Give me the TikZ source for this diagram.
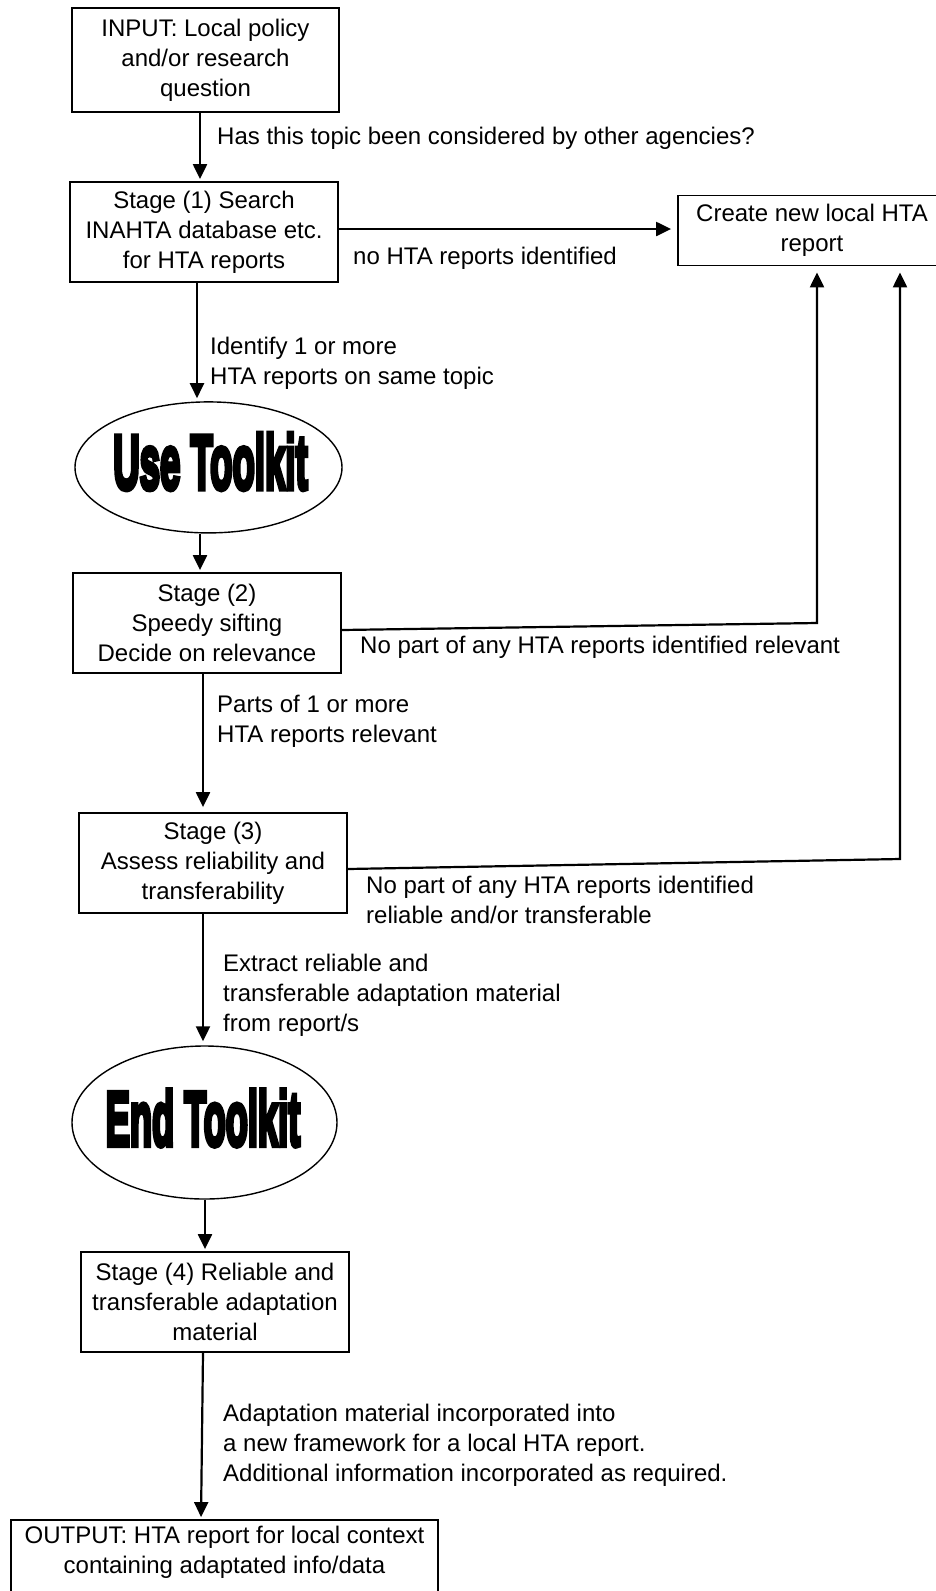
\documentclass[tikz,border=0pt]{standalone}
\usepackage{fontspec}
\usepackage{graphicx}
\setmainfont{Liberation Sans}
\newfontfamily\tkfont[BoldFeatures={FakeBold=7}]{Liberation Sans}
\usetikzlibrary{arrows.meta,shapes.geometric}
\newcommand{\txtfont}{\fontsize{24}{30}\selectfont}
\newcommand{\bigfont}{\tkfont\bfseries\fontsize{77}{90}\selectfont}
\begin{document}
\begin{tikzpicture}[x=1pt,y=-1pt,
  box/.style={draw, line width=1.8pt, minimum width=268pt, minimum height=100pt, align=center, inner sep=0pt, font=\txtfont},
  lbl/.style={anchor=north west, align=left, inner sep=0pt, font=\txtfont},
  arr/.style={line width=2.2pt, -{Triangle[length=15pt,width=14pt]}},
  oval/.style={draw, ellipse, line width=1.4pt, inner sep=0pt},
  toolkit/.style={inner sep=0pt, font=\bigfont}]
\useasboundingbox (0,0) rectangle (936,1591);
\fill[white] (0,0) rectangle (936,1591);
% boxes
\node[box, minimum width=267pt, minimum height=104pt] (input) at (205.5,60) {INPUT: Local policy\\and/or research\\question};
\node[box] (s1) at (204,232) {Stage (1) Search\\INAHTA database etc.\\for HTA reports};
\node[box, minimum width=268pt, minimum height=70pt] (create) at (812,230.5) {Create new local HTA\\report};
\node[oval, minimum width=267pt, minimum height=131pt] (use) at (208.5,467.4) {};
\node[toolkit] (uset) at (210.5,461.5) {\scalebox{0.475}[1]{Use Toolkit}};
\node[box] (s2) at (207,623) {Stage (2)\\Speedy sifting\\Decide on relevance};
\node[box] (s3) at (213,863) {Stage (3)\\Assess reliability and\\transferability};
\node[oval, minimum width=265pt, minimum height=153pt] (endt) at (204.5,1122.5) {};
\node[toolkit] (endtt) at (203,1118) {\scalebox{0.47}[1]{End Toolkit}};
\node[box] (s4) at (215,1302) {Stage (4) Reliable and\\transferable adaptation\\material};
\node[draw, line width=1.8pt, minimum width=427pt, minimum height=90pt, inner sep=0pt] (out) at (224.5,1565) {};
\node[font=\txtfont, align=center, inner sep=0pt] (outt) at (224.5,1552) {OUTPUT: HTA report for local context\\containing adaptated info/data};
% labels
\node[lbl] (l0) at (217,126.5) {Has this topic been considered by other agencies?};
\node[lbl] (l1) at (353,246.5) {no HTA reports identified};
\node[lbl] (l2) at (210,336.5) {Identify 1 or more\\HTA reports on same topic};
\node[lbl] (l3) at (360,635.5) {No part of any HTA reports identified relevant};
\node[lbl] (l4) at (217,694.5) {Parts of 1 or more\\HTA reports relevant};
\node[lbl] (l5) at (366,875.5) {No part of any HTA reports identified\\reliable and/or transferable};
\node[lbl] (l6) at (223,953.5) {Extract reliable and\\transferable adaptation material\\from report/s};
\node[lbl] (l7) at (223,1403.5) {Adaptation material incorporated into\\a new framework for a local HTA report.\\Additional information incorporated as required.};
% helper coordinates
\coordinate (a1) at ([xshift=-5.5pt]input.south);
\coordinate (a2) at ([yshift=3pt]s1.east);
\coordinate (a3) at ([xshift=-7pt]s1.south);
\coordinate (a4) at ([xshift=-8.5pt]use.south);
\coordinate (a5) at ([yshift=-7pt]s2.east);
\coordinate (k2) at (817,623);
\coordinate (a6) at ([xshift=-4pt]s2.south);
\coordinate (a7) at ([yshift=-6pt]s3.east);
\coordinate (k3) at (900,859);
\coordinate (a8) at ([xshift=-10pt]s3.south);
\coordinate (a9) at ([xshift=0.5pt]endt.south);
\coordinate (a10) at ([xshift=-12pt]s4.south);
\coordinate (b10) at ([xshift=-23.5pt]out.north);
% connectors
\draw[arr, shorten >=2pt] (a1) -- (a1 |- s1.north);
\draw[arr, shorten >=6pt] (a2) -- (a2 -| create.west);
\draw[arr, shorten >=3pt] (a3) -- (a3 |- use.north);
\draw[arr, shorten >=2pt] (a4) -- (a4 |- s2.north);
\draw[arr, shorten >=6pt] (a5) -- (k2) -- (k2 |- create.south);
\draw[arr, shorten >=5pt] (a6) -- (a6 |- s3.north);
\draw[arr, shorten >=6pt] (a7) -- (k3) -- (k3 |- create.south);
\draw[arr, shorten >=4pt] (a8) -- (a8 |- endt.north);
\draw[arr, shorten >=2pt] (a9) -- (a9 |- s4.north);
\draw[arr, shorten >=2pt] (a10) -- (b10);
\end{tikzpicture}
\end{document}
